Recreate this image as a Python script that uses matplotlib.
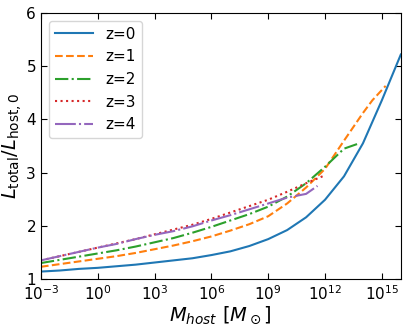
import numpy as np
import matplotlib
matplotlib.use('Agg')
import matplotlib.pyplot as plt

# log10(M_host) sample points and L_total/L_host,0 for each redshift
logm_z0 = [-3, -2, -1, 0, 1, 2, 3, 4, 5, 6, 7, 8, 9, 10, 11, 12, 13, 14, 15, 16]
ratio_z0 = [1.14, 1.16, 1.19, 1.21, 1.24, 1.27, 1.31, 1.35, 1.39, 1.45,
            1.52, 1.62, 1.75, 1.92, 2.16, 2.49, 2.93, 3.55, 4.36, 5.22]

logm_z1 = [-3, -2, -1, 0, 1, 2, 3, 4, 5, 6, 7, 8, 9, 10, 11, 12, 13, 14, 14.5, 15.2]
ratio_z1 = [1.23, 1.28, 1.33, 1.38, 1.43, 1.49, 1.56, 1.63, 1.71, 1.80,
            1.91, 2.03, 2.18, 2.42, 2.72, 3.07, 3.60, 4.12, 4.36, 4.63]

logm_z2 = [-3, -2, -1, 0, 1, 2, 3, 4, 5, 6, 7, 8, 9, 10, 11, 12, 13, 13.8]
ratio_z2 = [1.30, 1.36, 1.42, 1.48, 1.54, 1.61, 1.69, 1.77, 1.87, 1.98,
            2.10, 2.22, 2.36, 2.55, 2.80, 3.11, 3.45, 3.55]

logm_z3 = [-3, -2, -1, 0, 1, 2, 3, 4, 5, 6, 7, 8, 9, 10, 11, 12]
ratio_z3 = [1.35, 1.43, 1.51, 1.59, 1.67, 1.75, 1.84, 1.93, 2.02, 2.13,
            2.25, 2.37, 2.49, 2.64, 2.80, 2.95]

logm_z4 = [-3, -2, -1, 0, 1, 2, 3, 4, 5, 6, 7, 8, 9, 10, 11, 11.6]
ratio_z4 = [1.35, 1.43, 1.51, 1.59, 1.66, 1.75, 1.83, 1.90, 1.99, 2.10,
            2.20, 2.31, 2.42, 2.53, 2.60, 2.75]

series = [
    ('z=0', logm_z0, ratio_z0, '-'),
    ('z=1', logm_z1, ratio_z1, '--'),
    ('z=2', logm_z2, ratio_z2, '-.'),
    ('z=3', logm_z3, ratio_z3, ':'),
    ('z=4', logm_z4, ratio_z4, (0, (10, 1.5, 1, 1.5))),
]

fig = plt.figure(figsize=(4.09, 3.25), dpi=100)
ax = fig.add_axes([0.1, 0.1415, 0.88, 0.8185])

for label, logm, ratio, ls in series:
    ax.plot(10.0 ** np.array(logm, dtype=float), ratio, ls=ls, lw=1.5, label=label)

ax.set_xscale('log')
ax.set_xlim(1e-3, 1e16)
ax.set_ylim(1, 6)
ax.set_xticks([10.0 ** k for k in range(-3, 16, 3)])
ax.xaxis.set_minor_locator(matplotlib.ticker.NullLocator())
ax.set_yticks([1, 2, 3, 4, 5, 6])
ax.tick_params(direction='in', top=True, right=True, labelsize=11, length=4)

ax.set_xlabel(r'$M_{host}\ [M_\odot]$', fontsize=14, labelpad=1)
ax.set_ylabel(r'$L_{\rm total}/L_{\rm host,0}$', fontsize=14, labelpad=2)
ax.legend(loc='upper left', fontsize=11, handlelength=2.5)

fig.savefig('out.png', dpi=100)
